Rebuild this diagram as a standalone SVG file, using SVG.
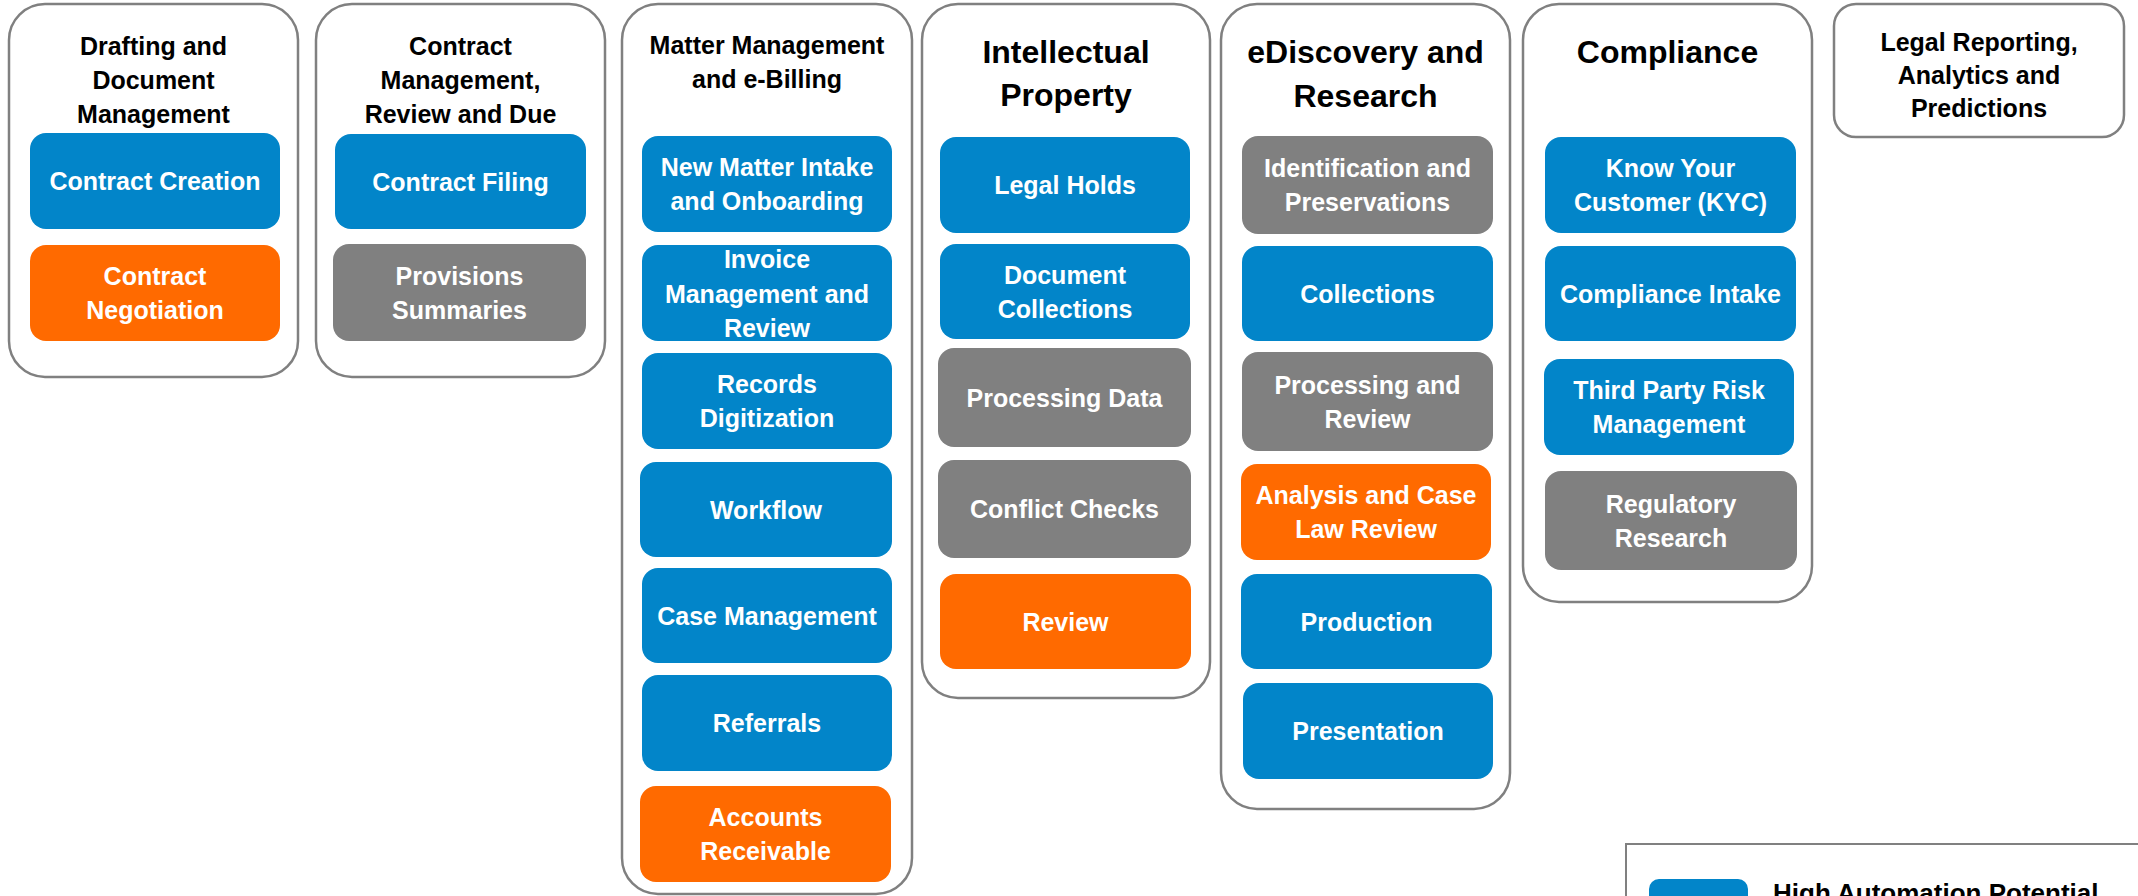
<svg xmlns="http://www.w3.org/2000/svg" width="2138" height="896" viewBox="0 0 2138 896">
<style>
text{font-family:"Liberation Sans",Arial,sans-serif;font-weight:bold;text-anchor:middle}
.col{fill:#ffffff;stroke:#808080;stroke-width:2.5}
.hd{font-size:25px;fill:#000000}
.hdl{font-size:32px;fill:#000000}
.b{fill:#0285C9}
.o{fill:#FF6A00}
.g{fill:#808080}
.t{font-size:25px;fill:#ffffff}
</style>
<rect width="2138" height="896" fill="#ffffff"/>
<g id="connectors"/>

<g id="col-drafting">
<rect class="col" x="9" y="4" width="289" height="373" rx="36"/>
<text class="hd" x="153.5" y="55">Drafting and</text>
<text class="hd" x="153.5" y="89">Document</text>
<text class="hd" x="153.5" y="123">Management</text>
</g>
<g id="n-contract-creation"><rect class="b" x="30" y="133" width="250" height="96" rx="16"/><text class="t" x="155" y="190">Contract Creation</text></g>
<g id="n-contract-negotiation"><rect class="o" x="30" y="245" width="250" height="96" rx="16"/><text class="t" x="155" y="285">Contract</text><text class="t" x="155" y="319">Negotiation</text></g>

<g id="col-contract-mgmt">
<rect class="col" x="316" y="4" width="289" height="373" rx="36"/>
<text class="hd" x="460.5" y="55">Contract</text>
<text class="hd" x="460.5" y="89">Management,</text>
<text class="hd" x="460.5" y="123">Review and Due</text>
</g>
<g id="n-contract-filing"><rect class="b" x="335" y="134" width="251" height="95" rx="16"/><text class="t" x="460.5" y="191">Contract Filing</text></g>
<g id="n-provisions"><rect class="g" x="333" y="244" width="253" height="97" rx="16"/><text class="t" x="459.5" y="285">Provisions</text><text class="t" x="459.5" y="319">Summaries</text></g>

<g id="col-matter">
<rect class="col" x="622" y="4" width="290" height="890" rx="36"/>
<text class="hd" x="767" y="54">Matter Management</text>
<text class="hd" x="767" y="88">and e-Billing</text>
</g>
<g id="n-new-matter"><rect class="b" x="642" y="136" width="250" height="96" rx="16"/><text class="t" x="767" y="176">New Matter Intake</text><text class="t" x="767" y="210">and Onboarding</text></g>
<g id="n-invoice"><rect class="b" x="642" y="245" width="250" height="96" rx="16"/><text class="t" x="767" y="268">Invoice</text><text class="t" x="767" y="303">Management and</text><text class="t" x="767" y="337">Review</text></g>
<g id="n-records"><rect class="b" x="642" y="353" width="250" height="96" rx="16"/><text class="t" x="767" y="393">Records</text><text class="t" x="767" y="427">Digitization</text></g>
<g id="n-workflow"><rect class="b" x="640" y="462" width="252" height="95" rx="16"/><text class="t" x="766" y="519">Workflow</text></g>
<g id="n-case"><rect class="b" x="642" y="568" width="250" height="95" rx="16"/><text class="t" x="767" y="625">Case Management</text></g>
<g id="n-referrals"><rect class="b" x="642" y="675" width="250" height="96" rx="16"/><text class="t" x="767" y="732">Referrals</text></g>
<g id="n-accounts"><rect class="o" x="640" y="786" width="251" height="96" rx="16"/><text class="t" x="765.5" y="826">Accounts</text><text class="t" x="765.5" y="860">Receivable</text></g>

<g id="col-ip">
<rect class="col" x="922" y="4" width="288" height="694" rx="36"/>
<text class="hdl" x="1066" y="63">Intellectual</text>
<text class="hdl" x="1066" y="106">Property</text>
</g>
<g id="n-legal-holds"><rect class="b" x="940" y="137" width="250" height="96" rx="16"/><text class="t" x="1065" y="194">Legal Holds</text></g>
<g id="n-doc-collections"><rect class="b" x="940" y="244" width="250" height="95" rx="16"/><text class="t" x="1065" y="284">Document</text><text class="t" x="1065" y="318">Collections</text></g>
<g id="n-processing-data"><rect class="g" x="938" y="348" width="253" height="99" rx="16"/><text class="t" x="1064.5" y="407">Processing Data</text></g>
<g id="n-conflict"><rect class="g" x="938" y="460" width="253" height="98" rx="16"/><text class="t" x="1064.5" y="518">Conflict Checks</text></g>
<g id="n-review"><rect class="o" x="940" y="574" width="251" height="95" rx="16"/><text class="t" x="1065.5" y="631">Review</text></g>

<g id="col-ediscovery">
<rect class="col" x="1221" y="4" width="289" height="805" rx="36"/>
<text class="hdl" x="1365.5" y="63">eDiscovery and</text>
<text class="hdl" x="1365.5" y="107">Research</text>
</g>
<g id="n-identification"><rect class="g" x="1242" y="136" width="251" height="98" rx="16"/><text class="t" x="1367.5" y="177">Identification and</text><text class="t" x="1367.5" y="211">Preservations</text></g>
<g id="n-collections"><rect class="b" x="1242" y="246" width="251" height="95" rx="16"/><text class="t" x="1367.5" y="303">Collections</text></g>
<g id="n-processing-review"><rect class="g" x="1242" y="352" width="251" height="99" rx="16"/><text class="t" x="1367.5" y="394">Processing and</text><text class="t" x="1367.5" y="428">Review</text></g>
<g id="n-analysis"><rect class="o" x="1241" y="464" width="250" height="96" rx="16"/><text class="t" x="1366" y="504">Analysis and Case</text><text class="t" x="1366" y="538">Law Review</text></g>
<g id="n-production"><rect class="b" x="1241" y="574" width="251" height="95" rx="16"/><text class="t" x="1366.5" y="631">Production</text></g>
<g id="n-presentation"><rect class="b" x="1243" y="683" width="250" height="96" rx="16"/><text class="t" x="1368" y="740">Presentation</text></g>

<g id="col-compliance">
<rect class="col" x="1523" y="4" width="289" height="598" rx="36"/>
<text class="hdl" x="1667.5" y="63">Compliance</text>
</g>
<g id="n-kyc"><rect class="b" x="1545" y="137" width="251" height="96" rx="16"/><text class="t" x="1670.5" y="177">Know Your</text><text class="t" x="1670.5" y="211">Customer (KYC)</text></g>
<g id="n-compliance-intake"><rect class="b" x="1545" y="246" width="251" height="95" rx="16"/><text class="t" x="1670.5" y="303">Compliance Intake</text></g>
<g id="n-third-party"><rect class="b" x="1544" y="359" width="250" height="96" rx="16"/><text class="t" x="1669" y="399">Third Party Risk</text><text class="t" x="1669" y="433">Management</text></g>
<g id="n-regulatory"><rect class="g" x="1545" y="471" width="252" height="99" rx="16"/><text class="t" x="1671" y="513">Regulatory</text><text class="t" x="1671" y="547">Research</text></g>

<g id="col-reporting">
<rect class="col" x="1834" y="4" width="290" height="133" rx="22"/>
<text class="hd" x="1979" y="51">Legal Reporting,</text>
<text class="hd" x="1979" y="84">Analytics and</text>
<text class="hd" x="1979" y="117">Predictions</text>
</g>

<g id="legend">
<rect x="1626" y="844" width="560" height="120" fill="#ffffff" stroke="#808080" stroke-width="2"/>
<rect class="b" x="1649" y="879" width="99" height="50" rx="10"/>
<text x="1773" y="902" style="font-size:26px;fill:#000000;text-anchor:start">High Automation Potential</text>
</g>
</svg>
